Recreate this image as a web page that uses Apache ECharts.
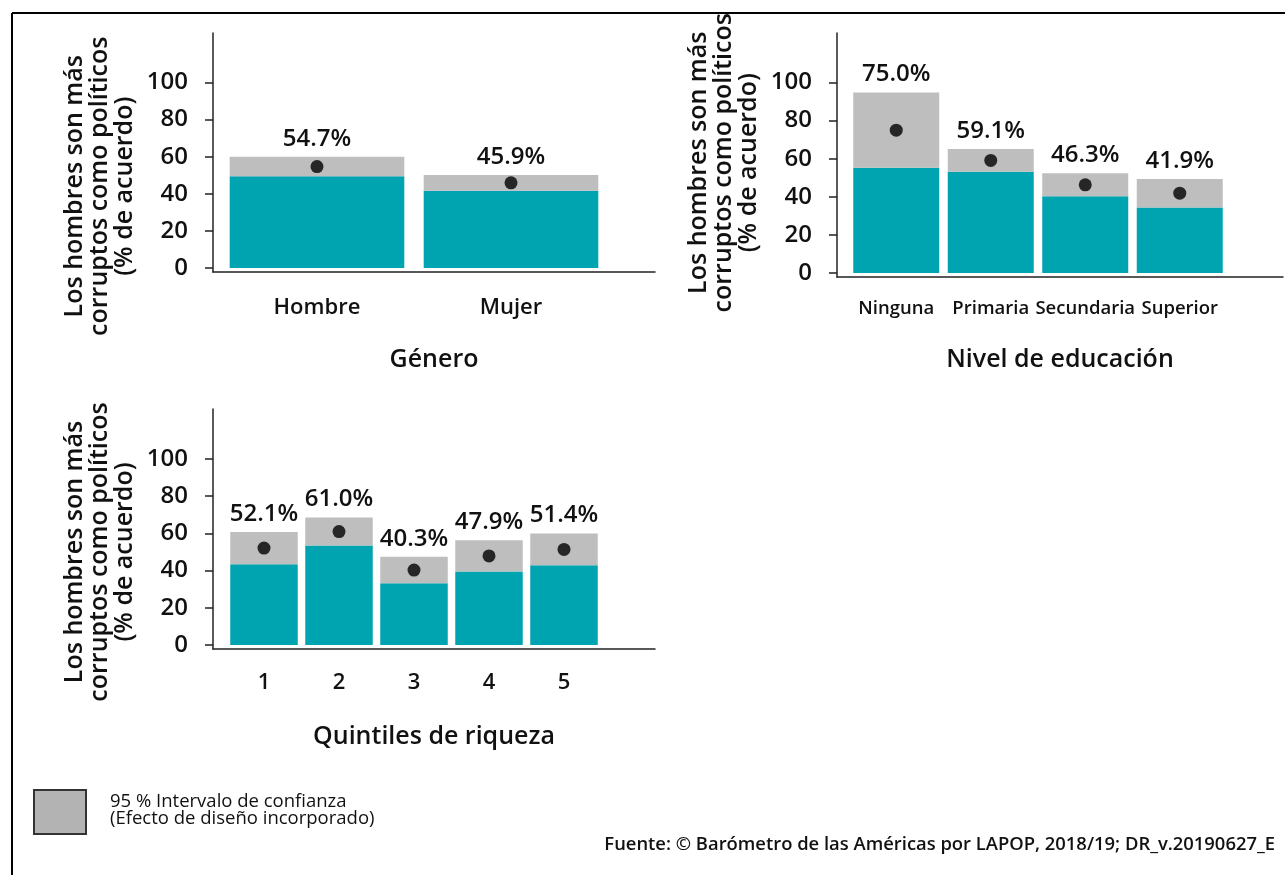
<!DOCTYPE html>
<html>
<head>
<meta charset="utf-8">
<script src="https://cdn.jsdelivr.net/npm/echarts@6/dist/echarts.min.js"></script>
<style>
html,body{margin:0;padding:0;background:#fff;}
#c{width:1285px;height:875px;}
</style>
</head>
<body>
<div id="c"></div>
<script>
// ---- Data ----
const generoCats = ['Hombre', 'Mujer'];
const generoMean = [54.7, 45.9];
const generoLow  = [49.4, 41.6];
const generoHigh = [60.0, 50.2];

const educCats = ['Ninguna', 'Primaria', 'Secundaria', 'Superior'];
const educMean = [75.0, 59.1, 46.3, 41.9];
const educLow  = [55.2, 53.1, 40.3, 34.4];
const educHigh = [94.8, 65.1, 52.3, 49.4];

const quintCats = ['1', '2', '3', '4', '5'];
const quintMean = [52.1, 61.0, 40.3, 47.9, 51.4];
const quintLow  = [43.4, 53.5, 33.2, 39.5, 42.9];
const quintHigh = [60.8, 68.5, 47.4, 56.3, 59.9];

const yMin = 0, yMax = 100, yInterval = 20;
const yTitle = 'Los hombres son más\ncorruptos como políticos\n(% de acuerdo)';
const legendText = '95 % Intervalo de confianza\n(Efecto de diseño incorporado)';
const sourceText = 'Fuente: © Barómetro de las Américas por LAPOP, 2018/19; DR_v.20190627_E';

// ---- Layout ----
const FONT = '"Open Sans", "Noto Sans", sans-serif';
const TEAL = '#00A3B0', GRAY = '#BEBEBE', AX = '#222', TXT = '#111';

const panels = [
  { cats: generoCats, mean: generoMean, low: generoLow, high: generoHigh, xName: 'Género',
    frame: {left: 213, top: 33, width: 442, height: 239},
    data: {left: 220, top: 82.5, width: 388, height: 185.5},
    catFont: 22, catMargin: 29, gap: '10%', xNameGap: 75, titlePad: [0, 0, 0, -22] },
  { cats: educCats, mean: educMean, low: educLow, high: educHigh, xName: 'Nivel de educación',
    frame: {left: 837, top: 33, width: 446, height: 244},
    data: {left: 849, top: 82.5, width: 378, height: 190.5},
    catFont: 18.5, catMargin: 26, gap: '9%', xNameGap: 70, titlePad: [0, 0, 0, 30] },
  { cats: quintCats, mean: quintMean, low: quintLow, high: quintHigh, xName: 'Quintiles de riqueza',
    frame: {left: 213, top: 409, width: 442, height: 240},
    data: {left: 226.5, top: 459, width: 375, height: 186},
    catFont: 22, catMargin: 27, gap: '10%', xNameGap: 75, titlePad: [0, 0, 0, 0] }
];

const grid = [], xAxis = [], yAxis = [], series = [];
panels.forEach((p, i) => {
  const gf = grid.length;
  grid.push(Object.assign({containLabel: false}, p.frame));
  xAxis.push({ gridIndex: gf, type: 'value', min: 0, max: 1,
    axisLine: {show: true, onZero: false, lineStyle: {color: AX, width: 1.5}},
    axisTick: {show: false}, axisLabel: {show: false}, splitLine: {show: false},
    name: p.xName, nameLocation: 'middle', nameGap: p.xNameGap,
    nameTextStyle: {fontFamily: FONT, fontSize: 25, color: TXT, fontWeight: 600} });
  yAxis.push({ gridIndex: gf, type: 'value', min: 0, max: 1,
    axisLine: {show: true, lineStyle: {color: AX, width: 1.5}},
    axisTick: {show: false}, axisLabel: {show: false}, splitLine: {show: false} });

  const gd = grid.length;
  grid.push(Object.assign({containLabel: false}, p.data));
  xAxis.push({ gridIndex: gd, type: 'category', data: p.cats,
    axisLine: {show: false}, axisTick: {show: false},
    axisLabel: {fontFamily: FONT, fontSize: p.catFont, color: TXT, margin: p.catMargin,
      fontWeight: 600, interval: 0, hideOverlap: false} });
  yAxis.push({ gridIndex: gd, type: 'value', min: yMin, max: yMax, interval: yInterval,
    offset: p.data.left - p.frame.left,
    axisLine: {show: false},
    axisTick: {show: true, length: 8, lineStyle: {color: AX, width: 1.5}},
    axisLabel: {fontFamily: FONT, fontSize: 24, color: TXT, margin: 25, fontWeight: 600},
    splitLine: {show: false},
    name: yTitle, nameLocation: 'middle', nameGap: 76,
    nameTextStyle: {fontFamily: FONT, fontSize: 25, lineHeight: 25, color: TXT, align: 'center',
      fontWeight: 600, padding: p.titlePad} });

  const stack = 'ci' + i;
  series.push({ type: 'bar', xAxisIndex: gd, yAxisIndex: gd, stack: stack,
    data: p.low, barCategoryGap: p.gap,
    itemStyle: {color: TEAL}, silent: true });
  series.push({ type: 'bar', xAxisIndex: gd, yAxisIndex: gd, stack: stack,
    data: p.high.map((h, k) => +(h - p.low[k]).toFixed(2)), barCategoryGap: p.gap,
    itemStyle: {color: GRAY}, silent: true,
    label: {show: true, position: 'top', distance: 6,
      formatter: (prm) => p.mean[prm.dataIndex].toFixed(1) + '%',
      fontFamily: FONT, fontSize: 24, color: TXT, fontWeight: 600} });
  series.push({ type: 'scatter', xAxisIndex: gd, yAxisIndex: gd,
    data: p.mean, symbol: 'circle', symbolSize: 13,
    itemStyle: {color: '#000'}, silent: true, z: 5 });
});

const chart = echarts.init(document.getElementById('c'), null, {renderer: 'canvas'});
chart.setOption({
  animation: false,
  backgroundColor: '#fff',
  grid, xAxis, yAxis, series,
  graphic: [
    {type: 'line', shape: {x1: 12, y1: 13, x2: 1285, y2: 13}, style: {stroke: '#000', lineWidth: 2}},
    {type: 'line', shape: {x1: 12, y1: 13, x2: 12, y2: 875}, style: {stroke: '#000', lineWidth: 2}},
    {type: 'rect', shape: {x: 34, y: 790, width: 52, height: 44},
      style: {fill: '#B3B3B3', stroke: '#333', lineWidth: 2}},
    {type: 'text', left: 110, top: 792,
      style: {text: legendText, font: '18.5px ' + FONT, fill: TXT, lineHeight: 17}},
    {type: 'text', right: 10, top: 836,
      style: {text: sourceText, font: '600 18.4px ' + FONT, fill: TXT, textAlign: 'right'}}
  ]
});
</script>
</body>
</html>
